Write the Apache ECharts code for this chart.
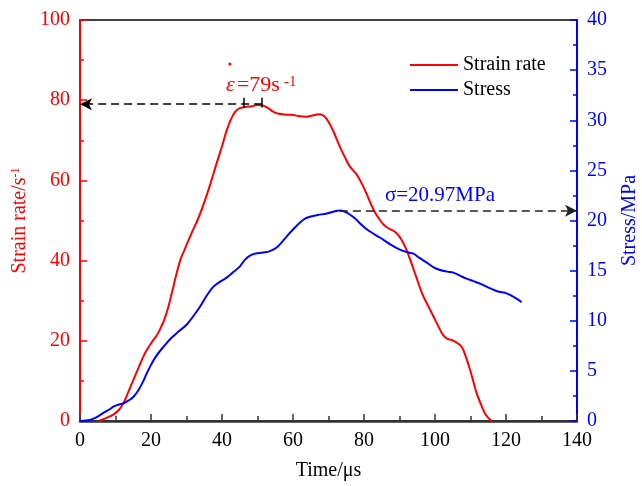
<!DOCTYPE html>
<html><head><meta charset="utf-8">
<script src="https://cdn.jsdelivr.net/npm/echarts@6/dist/echarts.min.js"></script>
<style>html,body{margin:0;padding:0;background:#fff}#c{width:642px;height:486px}</style>
</head><body><div id="c"></div>
<script>
// ---- data ----
const xTicks = [0, 20, 40, 60, 80, 100, 120, 140];
const strainTicks = [0, 20, 40, 60, 80, 100];
const stressTicks = [0, 5, 10, 15, 20, 25, 30, 35, 40];

const strainTime = [5.3,7,9.4,11,12.2,13.5,15,16.5,17.8,19,20.2,21.5,22.5,23.8,24.9,26,27.2,28.4,29.6,31,33.3,35,36.5,38.5,40,41.3,42.5,43.7,45,46.5,48.5,50,51.5,53,54.5,56,58.2,60,62,63.8,65.5,67.3,68.5,69.5,70.4,71.5,72.3,73.5,74.6,76,77.9,79.5,80.8,82,83.1,84.5,85.5,87,88.7,90,91,92,93.5,95,96.5,98,99.5,101,102.3,103.5,104.7,106,107.5,108.7,109.9,111,111.7,113,114,115,116];
const strainRate = [0,0.6,1.6,2.8,4.4,7,10.2,13.3,16,18,19.6,21.2,22.8,25.4,28.5,32.4,36.8,40.5,43,46,50.5,54.5,58.5,64.3,68.5,72.4,75.2,77.1,78,78.3,78.5,78.8,78.7,78,77.1,76.6,76.4,76.3,76.0,75.9,76.2,76.5,76.2,75.3,74,72,70.3,67.8,65.8,63.5,61.5,59,56.5,54,52,50.1,49,48,47.2,46,44.5,42.6,39,35.2,31.5,28.8,26.2,23.5,21.4,20.5,20.2,19.6,18.5,16,12.7,9.2,7,4,2,0.8,0];

const stressTime = [0,2.8,4.5,6.6,8.5,9.4,11,12.2,13.5,15,16.5,18,18.8,20,21.5,23.5,25.5,27.5,30,32,33.8,35.5,37.6,39.5,41.3,43,45,46.5,47.9,49.5,51.6,53.5,55.4,57,58.2,60,62,63.5,65,67,69.5,71.5,73.2,74.5,76,77.5,78.9,80.5,81.7,83.5,85.4,87.5,90.1,92,93.9,95.5,97.7,99.5,101.4,103.5,105.2,107,108.9,110.8,112.7,114.5,116.4,118,119.7,121,122,123.2,124.4];
const stressVal = [0,0.1,0.35,0.8,1.2,1.43,1.65,1.75,2.0,2.4,3.1,4.1,4.75,5.6,6.5,7.4,8.2,8.85,9.6,10.5,11.4,12.4,13.4,13.9,14.3,14.8,15.4,16.1,16.5,16.7,16.8,16.95,17.3,17.9,18.4,19.1,19.8,20.2,20.4,20.55,20.7,20.9,21.0,20.9,20.6,20.2,19.7,19.2,18.9,18.5,18.1,17.6,17.1,16.85,16.7,16.3,15.8,15.35,15.06,14.9,14.8,14.5,14.2,13.95,13.7,13.4,13.1,12.9,12.8,12.6,12.4,12.15,11.85];

// annotations (data coordinates)
const strainPeak = 79;        // s^-1
const strainPeakTime = [46.2, 51.3];
const stressPeak = 20.97;     // MPa
const stressPeakTime = 73.2;

const seriesNames = ['Strain rate', 'Stress'];
// ---- chart ----
const FONT = '"Liberation Serif","Times New Roman",serif';
const RED = '#ff0000', BLUE = '#0000ff';
const chart = echarts.init(document.getElementById('c'), null, {renderer: 'canvas'});

const strainData = strainTime.map((t, i) => [t, strainRate[i]]);
const stressData = stressTime.map((t, i) => [t, stressVal[i]]);

function yAxisCommon(color, max, interval, ticks, pos, name, gap) {
  return {
    type: 'value', position: pos, min: 0, max: max, interval: interval,
    name: name, nameLocation: 'middle', nameGap: gap, nameMoveOverlap: false,
    nameTextStyle: {color: color, fontFamily: FONT, fontSize: 20,
      rich: {sup: {fontSize: 12, fontFamily: FONT, color: color, verticalAlign: 'top', padding: [0,0,6,0]}}},
    axisLine: {show: true, lineStyle: {color: color, width: 2}},
    axisTick: {show: true, inside: true, length: 7, lineStyle: {color: color, width: 1.5}},
    minorTick: {show: true, splitNumber: 2, length: 4, lineStyle: {color: color, width: 1.5}},
    splitLine: {show: false},
    axisLabel: {color: color, fontFamily: FONT, fontSize: 20, margin: 10,
      formatter: v => ticks.includes(v) ? String(v) : ''}
  };
}

const option = {
  animation: false,
  backgroundColor: '#ffffff',
  grid: {left: 80, right: 65, top: 20, bottom: 65, show: true, borderColor: '#000', borderWidth: 1.5,
         backgroundColor: 'transparent', containLabel: false, outerBoundsMode: 'none'},
  legend: {
    data: seriesNames, orient: 'vertical', left: 405, top: 50,
    icon: 'rect', itemWidth: 48, itemHeight: 2, itemGap: 5,
    textStyle: {color: '#000', fontFamily: FONT, fontSize: 20, lineHeight: 20}
  },
  xAxis: {
    type: 'value', min: 0, max: 140, interval: 20,
    name: 'Time/μs', nameLocation: 'middle', nameGap: 40,
    nameTextStyle: {color: '#000', fontFamily: FONT, fontSize: 20},
    axisLine: {show: true, lineStyle: {color: '#333', width: 2.5}},
    axisTick: {show: true, inside: true, length: 7, lineStyle: {color: '#333', width: 1.5}},
    minorTick: {show: true, splitNumber: 2, length: 5, lineStyle: {color: '#333', width: 1.5}},
    splitLine: {show: false},
    axisLabel: {color: '#000', fontFamily: FONT, fontSize: 20, margin: 10,
      formatter: v => xTicks.includes(v) ? String(v) : ''}
  },
  yAxis: [
    yAxisCommon(RED, 100, 20, strainTicks, 'left', 'Strain rate/s{sup|-1}', 50),
    yAxisCommon(BLUE, 40, 5, stressTicks, 'right', 'Stress/MPa', 43)
  ],
  series: [
    {
      name: seriesNames[0], type: 'line', yAxisIndex: 0, data: strainData,
      smooth: 0.35, symbol: 'none', lineStyle: {color: RED, width: 2}, itemStyle: {color: RED},
      markLine: {
        silent: true, animation: false, symbol: ['none', 'none'],
        label: {show: false},
        lineStyle: {color: '#000', width: 1.5, type: 'solid'},
        data: [
          [{coord: [strainPeakTime[1], strainPeak], symbol: 'none', lineStyle: {color: '#000', width: 1.5, type: [8, 5]}},
           {coord: [0, strainPeak], symbol: 'arrow', symbolSize: [9, 12]}],
          [{coord: [strainPeakTime[0], strainPeak - 0.8]}, {coord: [strainPeakTime[0], strainPeak + 1.6]}],
          [{coord: [strainPeakTime[1], strainPeak - 0.8]}, {coord: [strainPeakTime[1], strainPeak + 1.6]}]
        ]
      }
    },
    {
      name: seriesNames[1], type: 'line', yAxisIndex: 1, data: stressData,
      smooth: 0.35, symbol: 'none', lineStyle: {color: BLUE, width: 2}, itemStyle: {color: BLUE},
      markLine: {
        silent: true, animation: false, symbol: ['none', 'arrow'], symbolSize: [9, 12],
        label: {show: false},
        lineStyle: {color: '#222', width: 1.5, type: [8, 5]},
        data: [[{coord: [stressPeakTime, stressPeak]}, {coord: [140, stressPeak]}]]
      }
    }
  ]
};
chart.setOption(option);

// text annotations placed from data coordinates
const p = (t, v, yi) => chart.convertToPixel({xAxisIndex: 0, yAxisIndex: yi}, [t, v]);
const eps = p(41.1, 83.8, 0);
const sig = p(85.9, 22.5, 1);
chart.setOption({
  graphic: [
    {type: 'text', x: eps[0], y: eps[1], style: {text: 'ε', fill: RED, font: 'italic 22px ' + FONT, verticalAlign: 'middle', align: 'left'}},
    {type: 'text', x: eps[0] + 11, y: eps[1], style: {text: '=79s', fill: RED, font: '22px ' + FONT, verticalAlign: 'middle', align: 'left'}},
    {type: 'text', x: eps[0] + 58, y: eps[1] + 5, style: {text: '-1', fill: RED, font: '15px ' + FONT, verticalAlign: 'bottom', align: 'left'}},
    {type: 'circle', shape: {cx: eps[0] + 4, cy: eps[1] - 21, r: 1.5}, style: {fill: RED}},
    {type: 'text', x: sig[0], y: sig[1], style: {text: 'σ=20.97MPa', fill: BLUE, font: '21px ' + FONT, verticalAlign: 'middle', align: 'left'}}
  ]
});
</script>
</body></html>
